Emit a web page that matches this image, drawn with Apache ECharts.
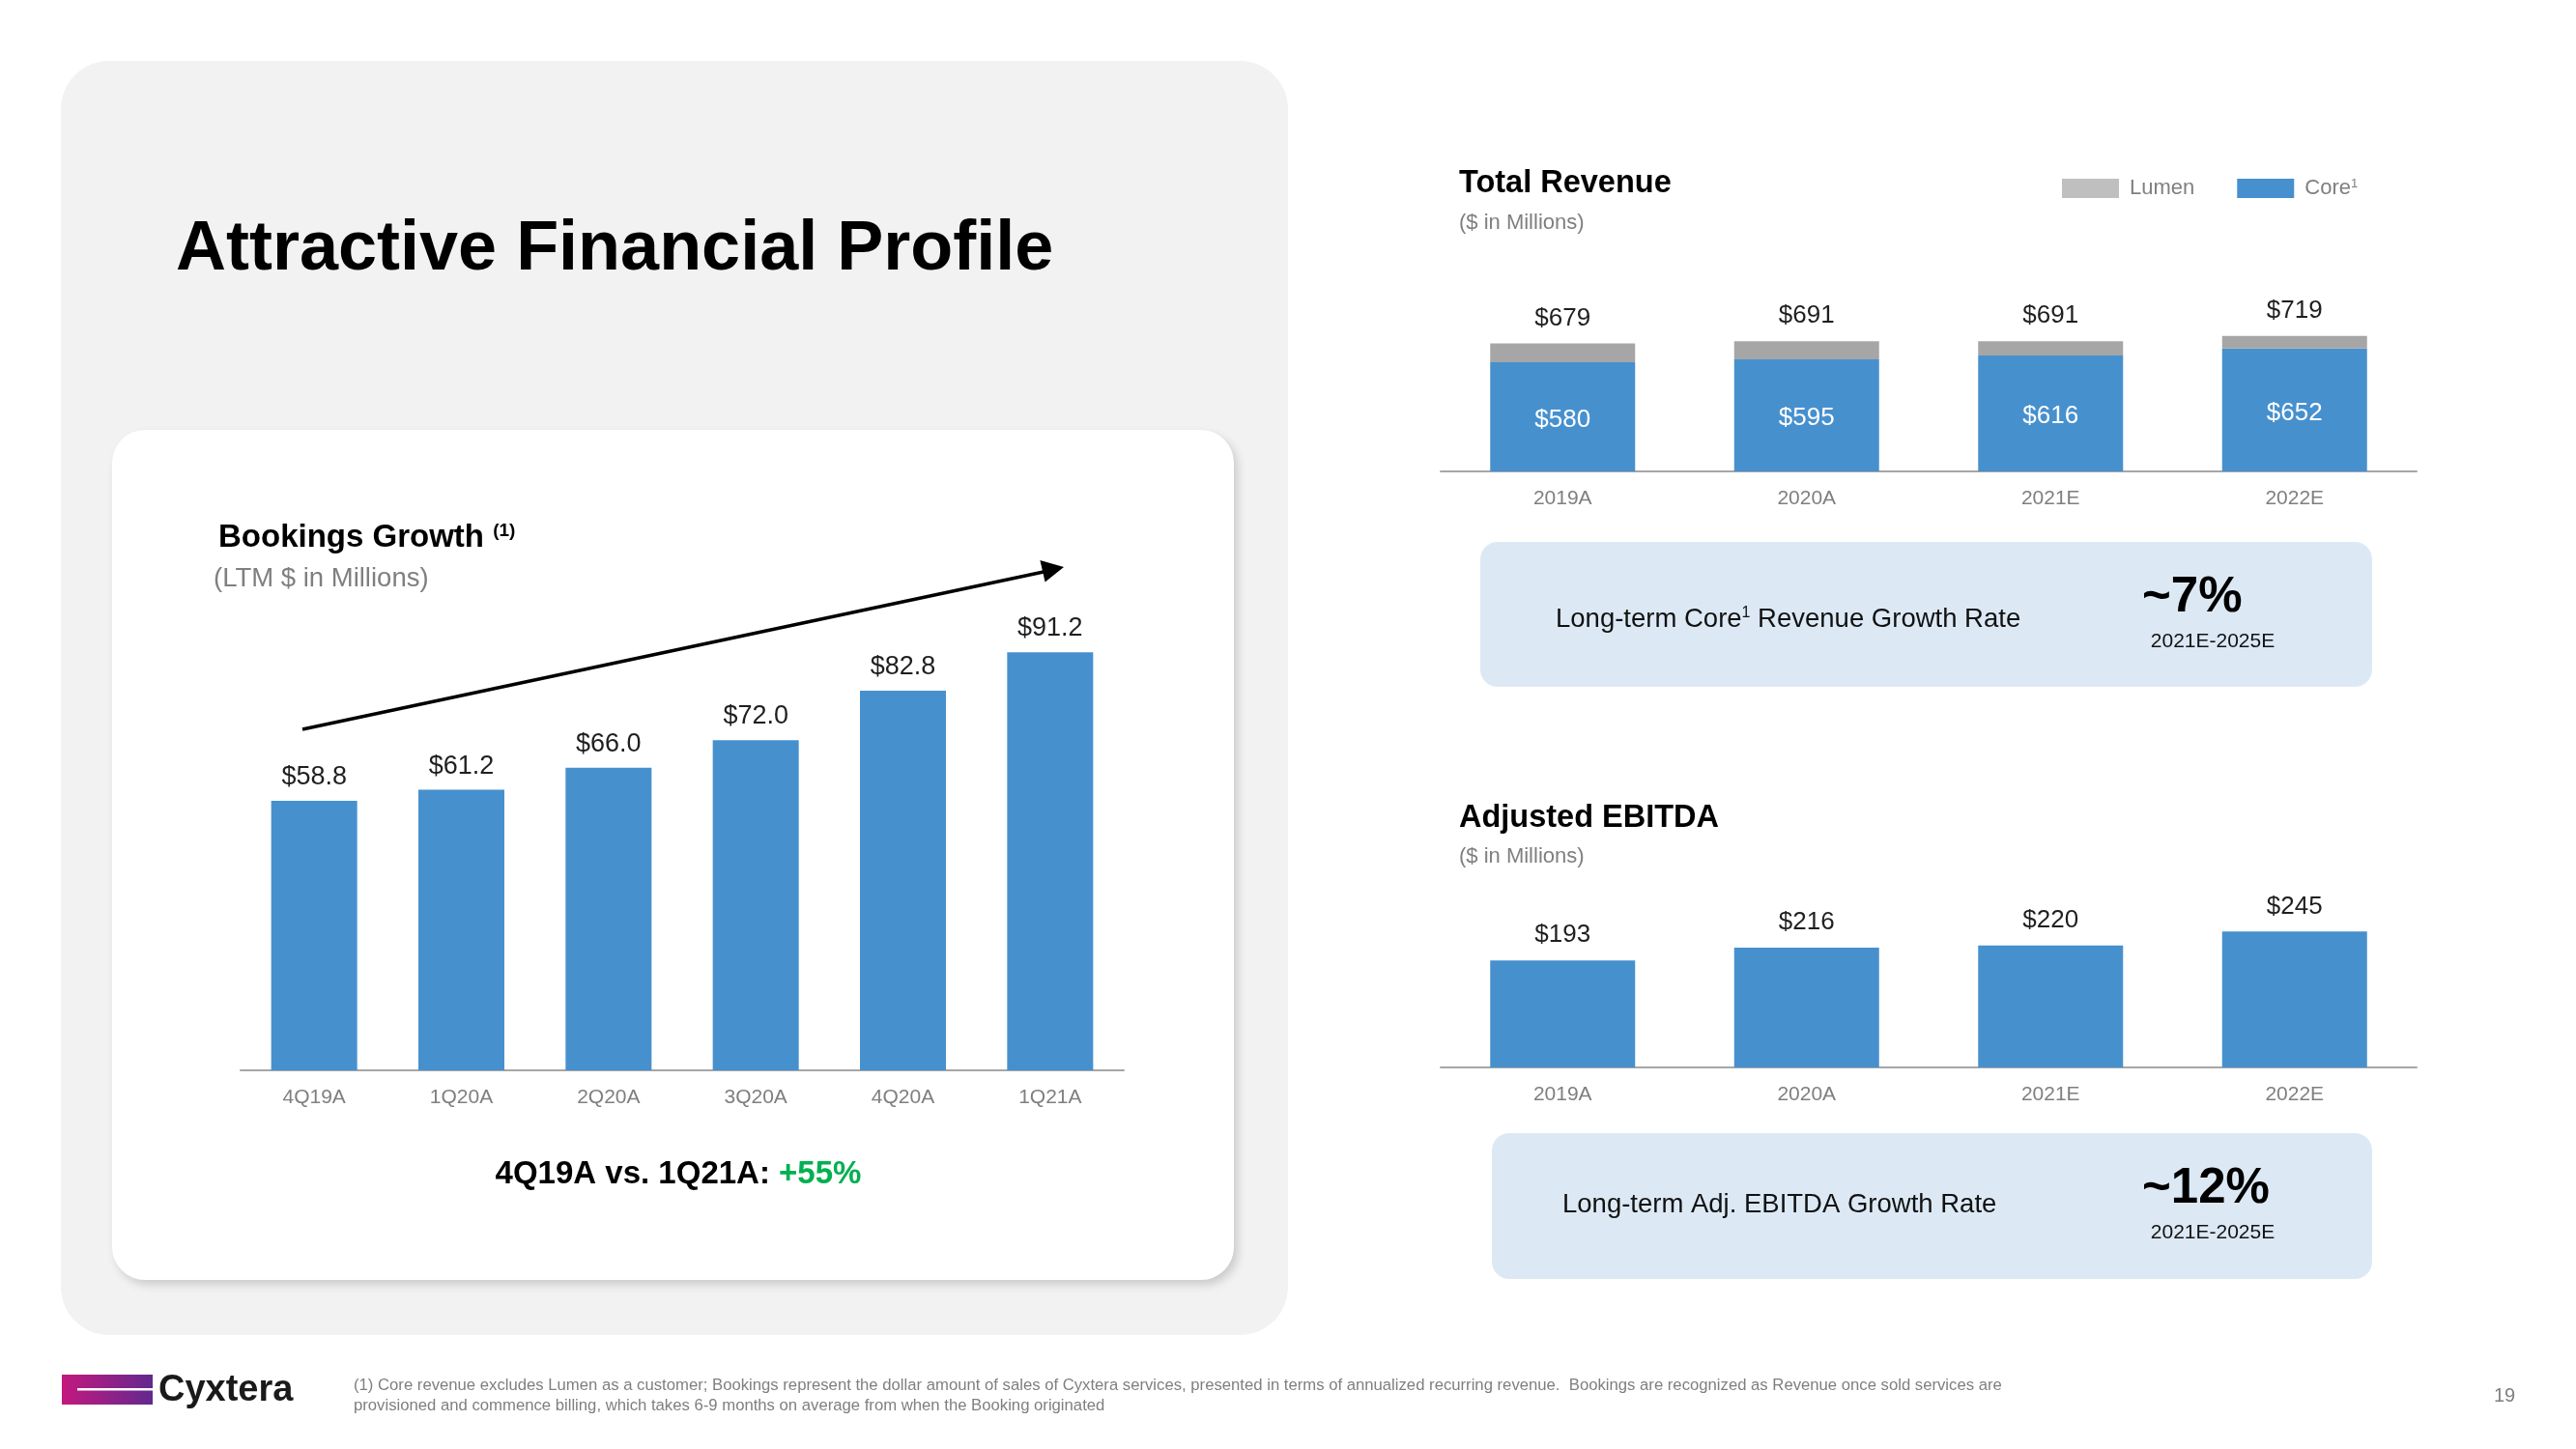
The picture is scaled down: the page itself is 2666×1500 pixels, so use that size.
<!DOCTYPE html>
<html><head><meta charset="utf-8">
<script src="https://cdn.jsdelivr.net/npm/echarts@6/dist/echarts.min.js"></script>
<style>html,body{margin:0;padding:0;background:#fff;}#c{width:2666px;height:1500px;}</style>
</head><body><div id="c"></div>
<script>
// ---- data ----
const bookingCategories = ['4Q19A', '1Q20A', '2Q20A', '3Q20A', '4Q20A', '1Q21A'];
const bookingValues = [58.8, 61.2, 66.0, 72.0, 82.8, 91.2];
const yearCategories = ['2019A', '2020A', '2021E', '2022E'];
const revenueCore = [580, 595, 616, 652];
const revenueLumen = [99, 96, 75, 67];
const revenueTotal = [679, 691, 691, 719];
const ebitdaValues = [193, 216, 220, 245];

const FONT = "'Liberation Sans', Arial, Helvetica, sans-serif";
const BLUE = '#4790ce';
const GREY_TXT = '#7f7f7f';
const DARK = '#1f1f1f';

function txt(x, y, text, opts) {
  opts = opts || {};
  return {
    type: 'text', z: 100,
    style: Object.assign({
      x: x, y: y, text: text,
      fontFamily: opts.family || FONT, fontSize: opts.size || 20, fontWeight: opts.weight || 'normal',
      fill: opts.color || DARK,
      align: opts.align || 'left', textAlign: opts.align || 'left',
      verticalAlign: 'middle', textVerticalAlign: 'middle'
    }, opts.rich ? { rich: opts.rich } : {})
  };
}

const chart = echarts.init(document.getElementById('c'), null, { renderer: 'canvas' });

const catAxis = (gridIndex, data) => ({
  type: 'category', gridIndex: gridIndex, data: data,
  axisLine: { lineStyle: { color: '#a6a6a6', width: 2 } },
  axisTick: { show: false },
  axisLabel: { color: GREY_TXT, fontSize: 21, fontFamily: FONT, margin: 18 }
});
const valAxis = (gridIndex, max) => ({
  type: 'value', gridIndex: gridIndex, min: 0, max: max, show: false, splitLine: { show: false }
});

const option = {
  backgroundColor: '#ffffff',
  animation: false,
  textStyle: { fontFamily: FONT },
  grid: [
    { left: 249, width: 914, top: 633.5, height: 474.5 },
    { left: 1491, width: 1010, top: 293, height: 195 },
    { left: 1491, width: 1010, top: 875.4, height: 229.6 }
  ],
  xAxis: [catAxis(0, bookingCategories), catAxis(1, yearCategories), catAxis(2, yearCategories)],
  yAxis: [valAxis(0, 100), valAxis(1, 1000), valAxis(2, 400)],
  legend: {
    left: 2134, top: 184, padding: 0,
    itemWidth: 59, itemHeight: 20, itemGap: 44,
    selectedMode: false,
    icon: 'rect',
    data: [
      { name: 'Lumen', itemStyle: { color: '#bfbfbf' } },
      { name: 'Core', itemStyle: { color: BLUE } }
    ],
    formatter: n => n === 'Core' ? 'Core{sup|1}' : n,
    textStyle: {
      color: GREY_TXT, fontSize: 22, fontFamily: FONT, padding: [0, 0, 0, 6],
      rich: { sup: { fontSize: 13, color: GREY_TXT, verticalAlign: 'top', fontFamily: FONT } }
    }
  },
  series: [
    {
      type: 'bar', name: 'Bookings', xAxisIndex: 0, yAxisIndex: 0,
      data: bookingValues, barWidth: 89,
      itemStyle: { color: BLUE },
      label: { show: true, position: 'top', distance: 11, color: DARK, fontSize: 27, fontFamily: FONT,
               formatter: p => '$' + p.value.toFixed(1) }
    },
    {
      type: 'bar', name: 'Core', xAxisIndex: 1, yAxisIndex: 1, stack: 'rev',
      data: revenueCore, barWidth: 150,
      itemStyle: { color: BLUE },
      label: { show: true, position: 'inside', offset: [0, 3], color: '#ffffff', fontSize: 26, fontFamily: FONT,
               formatter: p => '$' + p.value }
    },
    {
      type: 'bar', name: 'Lumen', xAxisIndex: 1, yAxisIndex: 1, stack: 'rev',
      data: revenueLumen, barWidth: 150,
      itemStyle: { color: '#a6a6a6' },
      label: { show: true, position: 'top', distance: 13, color: DARK, fontSize: 26, fontFamily: FONT,
               formatter: p => '$' + revenueTotal[p.dataIndex] }
    },
    {
      type: 'bar', name: 'EBITDA', xAxisIndex: 2, yAxisIndex: 2,
      data: ebitdaValues, barWidth: 150,
      itemStyle: { color: BLUE },
      label: { show: true, position: 'top', distance: 13, color: DARK, fontSize: 26, fontFamily: FONT,
               formatter: p => '$' + p.value }
    }
  ],
  graphic: {
    elements: [
      // grey panel
      { type: 'rect', z: -3, shape: { x: 63, y: 63, width: 1270, height: 1319, r: 50 },
        style: { fill: '#f2f2f2' } },
      // white card
      { type: 'rect', z: -2, shape: { x: 116, y: 445, width: 1161, height: 880, r: 34 },
        style: { fill: '#ffffff', shadowBlur: 10, shadowOffsetX: 4, shadowOffsetY: 5, shadowColor: 'rgba(0,0,0,0.16)' } },
      // growth boxes
      { type: 'rect', z: -2, shape: { x: 1532, y: 561, width: 923, height: 150, r: 18 },
        style: { fill: '#dce9f5' } },
      { type: 'rect', z: -2, shape: { x: 1544, y: 1173, width: 911, height: 151, r: 18 },
        style: { fill: '#dce9f5' } },
      // arrow
      { type: 'line', z: 50, shape: { x1: 313, y1: 755, x2: 1080, y2: 592 },
        style: { stroke: '#000000', lineWidth: 3.5 } },
      { type: 'polygon', z: 50, shape: { points: [[1101, 587], [1081.6, 602.5], [1076.4, 580]] },
        style: { fill: '#000000' } },
      // titles
      txt(182, 259, 'Attractive Financial Profile', { size: 72, weight: 'bold', color: '#000' }),
      txt(226, 557, 'Bookings Growth {sup|(1)}', { size: 33, weight: 'bold', color: '#000',
        rich: { sup: { fontSize: 19, fontWeight: 'bold', fontFamily: FONT, verticalAlign: 'top', fill: '#000', color: '#000' } } }),
      txt(221, 599, '(LTM $ in Millions)', { size: 27.5, color: GREY_TXT }),
      txt(702, 1216, '4Q19A vs. 1Q21A: {g|+55%}', { size: 33, weight: 'bold', color: '#000', align: 'center',
        rich: { g: { fontSize: 33, fontWeight: 'bold', fontFamily: FONT, fill: '#00b050', color: '#00b050' } } }),
      txt(1510, 190, 'Total Revenue', { size: 32.5, weight: 'bold', color: '#000' }),
      txt(1510, 231, '($ in Millions)', { size: 22, color: GREY_TXT }),
      txt(1510, 847, 'Adjusted EBITDA', { size: 32.5, weight: 'bold', color: '#000' }),
      txt(1510, 887, '($ in Millions)', { size: 22, color: GREY_TXT }),
      // growth box texts
      txt(1610, 641, 'Long-term Core{sup|1} Revenue Growth Rate', { size: 27.5, color: '#111',
        rich: { sup: { fontSize: 16, fontFamily: FONT, verticalAlign: 'top', fill: '#111', color: '#111' } } }),
      txt(2217, 619, '~7%', { size: 51, weight: 'bold', color: '#000' }),
      txt(2290, 664, '2021E-2025E', { size: 21, color: '#111', align: 'center' }),
      txt(1617, 1247, 'Long-term Adj. EBITDA Growth Rate', { size: 27.5, color: '#111' }),
      txt(2217, 1231, '~12%', { size: 51, weight: 'bold', color: '#000' }),
      txt(2290, 1276, '2021E-2025E', { size: 21, color: '#111', align: 'center' }),
      // footer logo
      { type: 'rect', z: 5, shape: { x: 64, y: 1423, width: 94, height: 31 },
        style: { fill: new echarts.graphic.LinearGradient(0, 0, 1, 0, [
          { offset: 0, color: '#c4187e' }, { offset: 1, color: '#62298f' }]) } },
      { type: 'rect', z: 6, shape: { x: 80, y: 1437, width: 78, height: 2.5 }, style: { fill: '#ffffff' } },
      txt(164, 1440, 'Cyxtera', { size: 38, weight: 'bold', color: '#1a1a1a' }),
      // footnote
      txt(366, 1434, '(1) Core revenue excludes Lumen as a customer; Bookings represent the dollar amount of sales of Cyxtera services, presented in terms of annualized recurring revenue.  Bookings are recognized as Revenue once sold services are', { size: 16.7, color: GREY_TXT }),
      txt(366, 1455, 'provisioned and commence billing, which takes 6-9 months on average from when the Booking originated', { size: 16.7, color: GREY_TXT }),
      txt(2592, 1445, '19', { size: 20, color: GREY_TXT, align: 'center' })
    ]
  }
};
chart.setOption(option);
</script>
</body></html>
